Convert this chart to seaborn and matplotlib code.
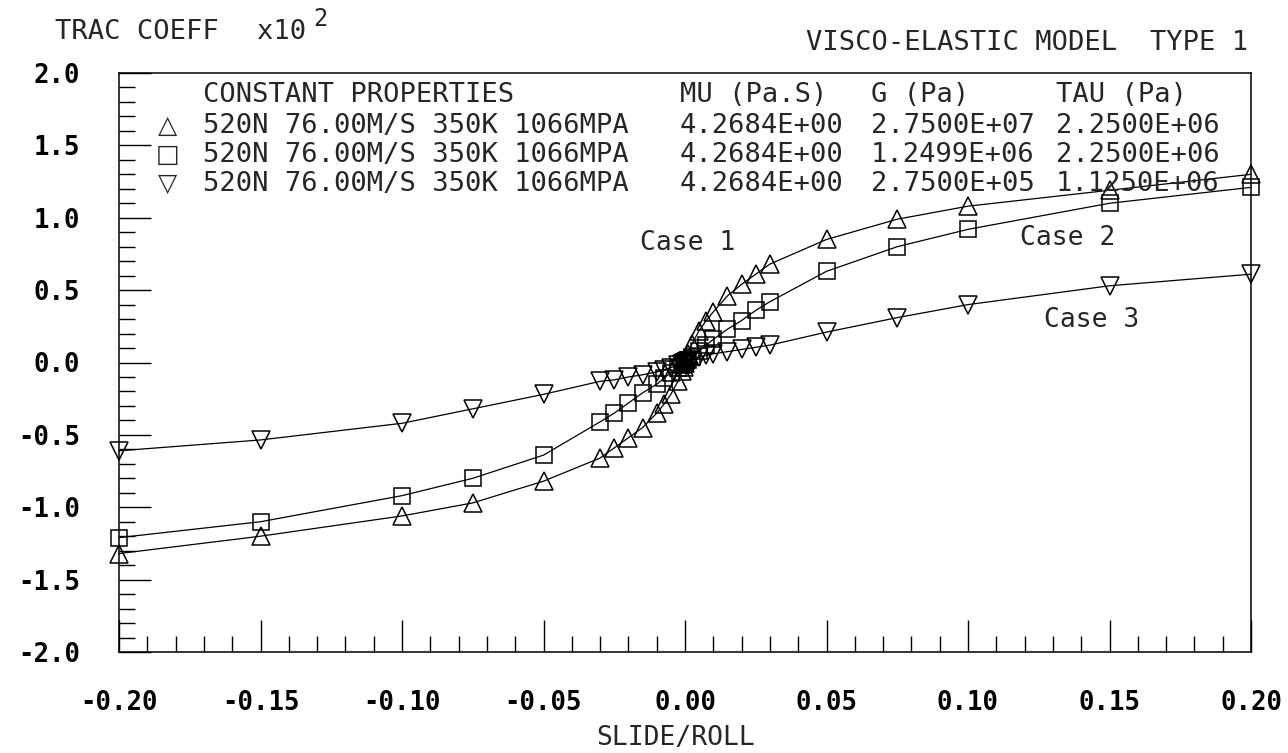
import matplotlib
matplotlib.use('Agg')
import matplotlib.pyplot as plt
import seaborn as sns
from matplotlib.ticker import MultipleLocator

# valeurs (coefficient de traction x10^2)
slide_roll = [-0.2, -0.15, -0.1, -0.075, -0.05, -0.03, -0.025, -0.02, -0.015, -0.01, -0.0075, -0.005,
              -0.0025, -0.001, -0.0005, 0.0, 0.0005, 0.001, 0.0025, 0.005, 0.0075, 0.01, 0.015, 0.02,
              0.025, 0.03, 0.05, 0.075, 0.1, 0.15, 0.2]
case1 = [-1.32, -1.20, -1.06, -0.97, -0.82, -0.66, -0.59, -0.52, -0.45, -0.35, -0.29, -0.22,
         -0.13, -0.06, -0.03, 0.0, 0.03, 0.06, 0.13, 0.22, 0.29, 0.35, 0.46, 0.54,
         0.61, 0.68, 0.85, 0.99, 1.08, 1.19, 1.30]
case2 = [-1.21, -1.10, -0.92, -0.80, -0.64, -0.41, -0.35, -0.28, -0.21, -0.15, -0.11, -0.07,
         -0.04, -0.02, -0.01, 0.0, 0.01, 0.02, 0.04, 0.08, 0.12, 0.16, 0.23, 0.29,
         0.36, 0.42, 0.63, 0.80, 0.92, 1.10, 1.21]
case3 = [-0.61, -0.535, -0.42, -0.32, -0.22, -0.13, -0.12, -0.10, -0.085, -0.065, -0.05, -0.035,
         -0.018, -0.007, -0.004, 0.0, 0.004, 0.007, 0.018, 0.035, 0.05, 0.06, 0.075, 0.09,
         0.105, 0.12, 0.21, 0.31, 0.40, 0.53, 0.61]

x_ticks = [-0.20, -0.15, -0.10, -0.05, 0.0, 0.05, 0.10, 0.15, 0.20]
x_labels = ['-0.20', '-0.15', '-0.10', '-0.05', '0.00', '0.05', '0.10', '0.15', '0.20']
y_ticks = [-2.0, -1.5, -1.0, -0.5, 0.0, 0.5, 1.0, 1.5, 2.0]
y_labels = ['-2.0', '-1.5', '-1.0', '-0.5', '0.0', '0.5', '1.0', '1.5', '2.0']

legend_header = ['CONSTANT PROPERTIES', 'MU (Pa.S)', 'G (Pa)', 'TAU (Pa)']
legend_rows = [['520N 76.00M/S 350K 1066MPA', '4.2684E+00', '2.7500E+07', '2.2500E+06'],
               ['520N 76.00M/S 350K 1066MPA', '4.2684E+00', '1.2499E+06', '2.2500E+06'],
               ['520N 76.00M/S 350K 1066MPA', '4.2684E+00', '2.7500E+05', '1.1250E+06']]
legend_marks = ['\u25b3', '\u25a1', '\u25bd']
case_names = ['Case 1', 'Case 2', 'Case 3']

sns.set_theme(style='white')
plt.rcParams['font.family'] = ['DejaVu Sans Mono', 'DejaVu Sans']
plt.rcParams['axes.unicode_minus'] = False

W, H = 1288, 753
fig = plt.figure(figsize=(W / 100, H / 100), dpi=100)
ax = fig.add_axes([119 / W, 1 - 652 / H, (1251 - 119) / W, (652 - 73) / H])


def ftext(px, py, s, **kw):
    # texte place en pixels de la figure
    fig.text(px / W, 1 - py / H, s, **kw)


for vals, m, ms in zip([case1, case2, case3], ['^', 's', 'v'], [13, 12, 13]):
    sns.lineplot(x=slide_roll, y=vals, ax=ax, color='black', lw=0.9, marker=m, markersize=ms,
                 markerfacecolor='none', markeredgecolor='black', markeredgewidth=1.1,
                 estimator=None, sort=False, clip_on=False)

ax.set_xlim(-0.2, 0.2)
ax.set_ylim(-2.0, 2.0)
ax.set_xticks(x_ticks)
ax.set_xticklabels(x_labels, fontsize=18.5, fontweight='bold')
ax.set_yticks(y_ticks)
ax.set_yticklabels(y_labels, fontsize=18.5, fontweight='bold')
ax.xaxis.set_minor_locator(MultipleLocator(0.01))
ax.yaxis.set_minor_locator(MultipleLocator(0.1))
ax.tick_params(which='both', bottom=True, left=True, top=False, right=False)
ax.tick_params(which='major', direction='in', length=23, width=1.0, color='black', labelcolor='black')
ax.tick_params(which='minor', direction='in', length=11.5, width=1.0, color='black')
ax.tick_params(axis='x', which='major', pad=27)
ax.tick_params(axis='y', which='major', pad=28)
for sp in ax.spines.values():
    sp.set_visible(True)
    sp.set_color('black')
    sp.set_linewidth(1.1)
ax.set_xlabel('')
ax.set_ylabel('')

# titres
ftext(55, 32, 'TRAC COEFF', fontsize=19.5, va='center', ha='left')
ftext(257, 32, 'x10', fontsize=19.5, va='center', ha='left')
ftext(313, 19, '2', fontsize=17, va='center', ha='left')
ftext(1248, 43, 'VISCO-ELASTIC MODEL  TYPE 1', fontsize=19.5, va='center', ha='right')
ftext(676, 738, 'SLIDE/ROLL', fontsize=19, va='center', ha='center')

# legende en colonnes
col_x = [203, 680, 871, 1056]
row_y = [126, 155, 184]
for s, cx in zip(legend_header, col_x):
    ftext(cx, 95, s, fontsize=19.5, va='center', ha='left')
for mark, row, ry in zip(legend_marks, legend_rows, row_y):
    ftext(168, ry, mark, fontsize=18, va='center', ha='center', family=['DejaVu Sans'])
    for s, cx in zip(row, col_x):
        ftext(cx, ry, s, fontsize=19.5, va='center', ha='left')

# etiquettes des courbes
for name, (px, py) in zip(case_names, [(688, 243), (1068, 238), (1092, 320)]):
    ftext(px, py, name, fontsize=19, va='center', ha='center')

fig.savefig('out.png', dpi=100)
